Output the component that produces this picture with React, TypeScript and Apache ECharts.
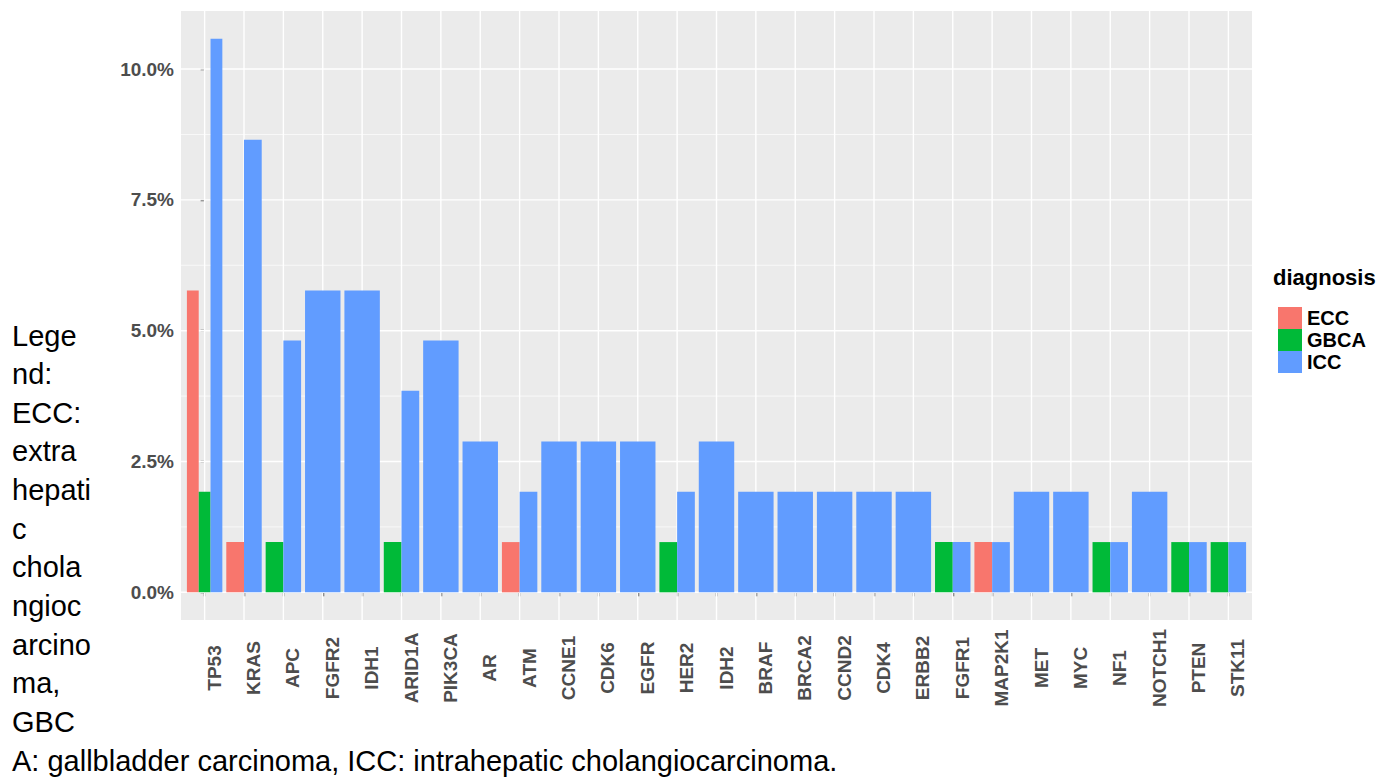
import React, { useEffect, useRef } from 'react';
import * as echarts from 'echarts';

const categories = ['TP53', 'KRAS', 'APC', 'FGFR2', 'IDH1', 'ARID1A', 'PIK3CA', 'AR', 'ATM', 'CCNE1', 'CDK6', 'EGFR', 'HER2', 'IDH2', 'BRAF', 'BRCA2', 'CCND2', 'CDK4', 'ERBB2', 'FGFR1', 'MAP2K1', 'MET', 'MYC', 'NF1', 'NOTCH1', 'PTEN', 'STK11'];
const eccValues = [5.77, 0.96, null, null, null, null, null, null, 0.96, null, null, null, null, null, null, null, null, null, null, null, 0.96, null, null, null, null, null, null];
const gbcaValues = [1.92, null, 0.96, null, null, 0.96, null, null, null, null, null, null, 0.96, null, null, null, null, null, null, 0.96, null, null, null, 0.96, null, 0.96, 0.96];
const iccValues = [10.58, 8.65, 4.81, 5.77, 5.77, 3.85, 4.81, 2.88, 1.92, 2.88, 2.88, 2.88, 1.92, 2.88, 1.92, 1.92, 1.92, 1.92, 1.92, 0.96, 0.96, 1.92, 1.92, 0.96, 1.92, 0.96, 0.96];
const diagnoses = ['ECC', 'GBCA', 'ICC'];
const colors = ['#F8766D', '#00BA38', '#619CFF'];
const yTicks = [0, 2.5, 5, 7.5, 10];
const yMinorTicks = [1.25, 3.75, 6.25, 8.75];
const legendTitle = 'diagnosis';
const captionLines = ['Lege', 'nd:', 'ECC:', 'extra', 'hepati', 'c', 'chola', 'ngioc', 'arcino', 'ma,', 'GBC', 'A: gallbladder carcinoma, ICC: intrahepatic cholangiocarcinoma.'];

const FONT = "'Liberation Sans', Arial, Helvetica, sans-serif";

export default function App() {
  const ref = useRef<HTMLDivElement>(null);
  useEffect(() => {
    if (!ref.current) return;
    const chart = echarts.init(ref.current, null, { renderer: 'svg' });

    const all = [eccValues, gbcaValues, iccValues];
    const dodged: number[][][] = all.map(() => []);
    categories.forEach((_, i) => {
      const present = all.map((s, k) => (s[i] != null ? k : -1)).filter((k) => k >= 0);
      present.forEach((k, slot) => {
        dodged[k].push([i, all[k][i] as number, slot, present.length]);
      });
    });

    const n = categories.length;
    const yMax = Math.max(...iccValues.map((v) => v ?? 0));
    const pad = yMax * 0.05;
    const catIdx = categories.map((_, i) => i);
    const xMin = -0.6;
    const xMax = n - 1 + 0.6;
    const yMin = -pad;
    const yTop = yMax + pad;

    const barSeries = diagnoses.map((name, k) => ({
      name,
      type: 'custom',
      z: 5,
      clip: false,
      itemStyle: { color: colors[k] },
      encode: { x: 0, y: 1 },
      data: dodged[k],
      renderItem: (params: any, api: any) => {
        const i = api.value(0);
        const v = api.value(1);
        const slot = api.value(2);
        const cnt = api.value(3);
        const w = 0.9 / cnt;
        const left = i - 0.45 + slot * w;
        const p0 = api.coord([left, 0]);
        const p1 = api.coord([left + w, v]);
        return {
          type: 'rect',
          shape: { x: p0[0], y: p1[1], width: p1[0] - p0[0], height: p0[1] - p1[1] },
          style: { fill: colors[k] },
        };
      },
    }));

    // gridlines: [orientation (0 = horizontal, 1 = vertical), value, major(1)/minor(0)]
    const gridData: number[][] = [
      ...yMinorTicks.map((v) => [0, v, 0]),
      ...yTicks.map((v) => [0, v, 1]),
      ...catIdx.map((v) => [1, v, 1]),
    ];
    const gridLineSeries = {
      name: 'gridlines',
      type: 'custom',
      z: 1,
      silent: true,
      clip: false,
      encode: { x: 1, y: 1 },
      data: gridData,
      renderItem: (params: any, api: any) => {
        const o = api.value(0);
        const v = api.value(1);
        const major = api.value(2);
        let a, b;
        if (o === 0) {
          a = api.coord([xMin, v]);
          b = api.coord([xMax, v]);
        } else {
          a = api.coord([v, yMin]);
          b = api.coord([v, yTop]);
        }
        return {
          type: 'line',
          shape: { x1: a[0], y1: a[1], x2: b[0], y2: b[1] },
          style: { stroke: '#FFFFFF', lineWidth: major ? 1.4 : 0.7 },
        };
      },
    };

    const graphics: any[] = captionLines.map((t, i) => ({
      type: 'text',
      left: 12,
      top: 338 + i * 38.64 - 17,
      style: { text: t, fill: '#000000', font: `29px ${FONT}` },
      silent: true,
    }));
    graphics.push({
      type: 'text',
      left: 1273,
      top: 266,
      style: { text: legendTitle, fill: '#000000', font: `bold 22px ${FONT}` },
      silent: true,
    });

    chart.setOption({
      animation: false,
      grid: {
        left: 181,
        right: 134,
        top: 11,
        bottom: 158,
        show: true,
        backgroundColor: '#EBEBEB',
        borderWidth: 0,
      },
      legend: {
        data: diagnoses,
        orient: 'vertical',
        left: 1273,
        top: 302,
        icon: 'rect',
        itemWidth: 24,
        itemHeight: 22,
        itemGap: 0,
        selectedMode: false,
        textStyle: { fontSize: 20, fontWeight: 'bold', color: '#000000', fontFamily: FONT },
      },
      xAxis: {
        type: 'value',
        min: xMin,
        max: xMax,
        axisLine: { show: false },
        splitLine: { show: false },
        axisTick: { show: true, customValues: catIdx, length: 4, lineStyle: { color: '#333333', width: 1.4 } },
        axisLabel: {
          customValues: catIdx,
          formatter: (v: number) => categories[Math.round(v)],
          rotate: 90,
          align: 'center',
          verticalAlign: 'top',
          margin: 48,
          color: '#4D4D4D',
          fontSize: 19,
          fontWeight: 'bold',
          fontFamily: FONT,
        },
      },
      yAxis: {
        type: 'value',
        min: yMin,
        max: yTop,
        axisLine: { show: false },
        splitLine: { show: false },
        axisTick: { show: true, customValues: yTicks, length: 4, lineStyle: { color: '#333333', width: 1.4 } },
        axisLabel: {
          customValues: yTicks,
          formatter: (v: number) => v.toFixed(1) + '%',
          margin: 7,
          color: '#4D4D4D',
          fontSize: 19,
          fontWeight: 'bold',
          fontFamily: FONT,
        },
      },
      graphic: graphics,
      series: [gridLineSeries, ...barSeries],
    });
    return () => chart.dispose();
  }, []);
  return <div ref={ref} style={{ position: 'absolute', left: 0, top: 0, width: 1386, height: 778 }} />;
}
